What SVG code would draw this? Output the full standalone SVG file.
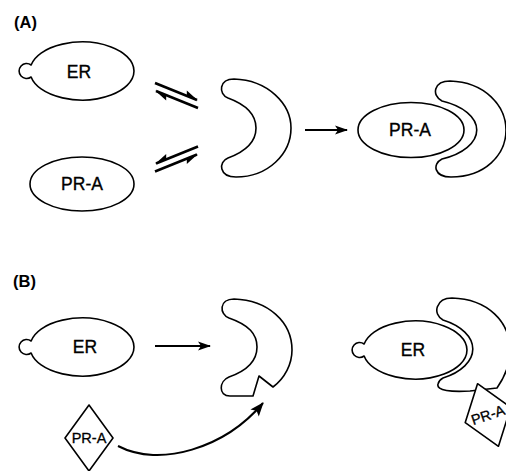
<svg xmlns="http://www.w3.org/2000/svg" xmlns:xlink="http://www.w3.org/1999/xlink" width="506" height="471" viewBox="0 0 506 471">
<style>
.shape{fill:#fff;stroke:#000;stroke-width:1.6;stroke-linejoin:round}
.lbl{font-family:"Liberation Sans",Arial,Helvetica,sans-serif;font-size:17.5px;text-anchor:middle;fill:#000;stroke:#000;stroke-width:0.35}
.small{font-size:14.5px;stroke-width:0.3}
.panel{font-family:"Liberation Sans",Arial,Helvetica,sans-serif;font-size:16.5px;font-weight:bold;fill:#000}
.arr{fill:none;stroke:#000;stroke-width:2}
.harp{fill:none;stroke:#000;stroke-width:2.6;marker-end:url(#harp)}
</style>
<defs>
<marker id="ah" markerUnits="userSpaceOnUse" markerWidth="13" markerHeight="10" viewBox="0 0 13 10" refX="12" refY="5" orient="auto" overflow="visible">
<path d="M0,0.5 L13,5 L0,9.5 L3,5 Z" fill="#000"/>
</marker>
<marker id="ah2" markerUnits="userSpaceOnUse" markerWidth="14" markerHeight="12" viewBox="0 0 14 12" refX="13" refY="6" orient="auto" overflow="visible">
<path d="M0,0.5 L14,6 L0,11.5 L3,6 Z" fill="#000"/>
</marker>
<marker id="harp" markerUnits="userSpaceOnUse" markerWidth="14" markerHeight="10" viewBox="0 0 14 10" refX="13" refY="5" orient="auto" overflow="visible">
<path d="M14,5 L0,0 L2,5 Z" fill="#000"/>
</marker>
<path id="erBody" d="M -50.89,-6 A 52 29 0 1 1 -50.89,6 A 7.5 7.5 0 1 1 -50.89,-6 Z"/>
<g id="eqPair">
<path class="harp" d="M155,83 L197,100"/>
<path class="harp" d="M198,108 L156,91"/>
</g>
</defs>

<text class="panel" x="14" y="28">(A)</text>
<text class="panel" x="13" y="287">(B)</text>

<g id="er-a">
<use xlink:href="#erBody" href="#erBody" class="shape" transform="translate(82,71)"/>
<text class="lbl" x="79" y="78">ER</text>
</g>

<g id="pra-a">
<ellipse class="shape" cx="82" cy="184" rx="52" ry="27"/>
<text class="lbl" x="82" y="190">PR-A</text>
</g>

<g id="crescent-a">
<path class="shape" d="M228,98 C218,94 219,79 234,79 C268,80 291,104 291,128 C291,154 268,177 236,177 C219,177 218,162 228,158 C247,151 256,140 256,128 C256,115 247,105 228,98 Z"/>
</g>

<g id="complex-a">
<ellipse class="shape" cx="411" cy="130" rx="53" ry="27.5"/>
<text class="lbl" x="410" y="136">PR-A</text>
<path class="shape" d="M442,101 C431,95 434,81 450,81 C485,82 506,106 506,130 C506,155 485,177 451,177 C434,177 432,164 442,159 A 57 31.5 0 0 0 442,101 Z"/>
</g>

<g id="er-b">
<use xlink:href="#erBody" href="#erBody" class="shape" transform="translate(82,347)"/>
<text class="lbl" x="85" y="353">ER</text>
</g>

<g id="crescent-b">
<path class="shape" d="M229,318 C219,314 219,299 234,299 C268,300 292,322 292,350 C292,364 285,378 273,387 L259,376 L253,396 L230,396 C218,396 219,381 229,377 C249,370 257,360 257,347 C257,334 249,325 229,318 Z"/>
</g>

<g id="pra-b">
<polygon class="shape" points="89,405 113,438 89,471 65,438"/>
<text class="lbl small" x="89" y="443">PR-A</text>
</g>

<g id="complex-b">
<use xlink:href="#erBody" href="#erBody" class="shape" transform="translate(415,350)"/>
<text class="lbl" x="413" y="356">ER</text>
<path class="shape" d="M443,320 C432,314 436,298 452,298 C488,299 510,322 510,350 C510,366 504,378 497,388 L470,391 C452,392 436,391 438,384 C439,380 441,379 443,378 A 57 33 0 0 0 443,320 Z"/>
<g transform="translate(488,415) rotate(-18.5)">
<polygon class="shape" points="0,-33 24,0 0,33 -24,0"/>
<text class="lbl small" x="0" y="5">PR-A</text>
</g>
</g>

<g id="connectors">
<use xlink:href="#eqPair" href="#eqPair"/>
<use xlink:href="#eqPair" href="#eqPair" transform="matrix(1,0,0,-1,0,254.5)"/>
<path class="arr" d="M305,130 L347,130" marker-end="url(#ah)"/>
<path class="arr" d="M155,346 L210,346" marker-end="url(#ah)"/>
<path class="arr" d="M118,446 C160,468 225,448 263,403" stroke-width="3.4" marker-end="url(#ah2)"/>
</g>
</svg>
